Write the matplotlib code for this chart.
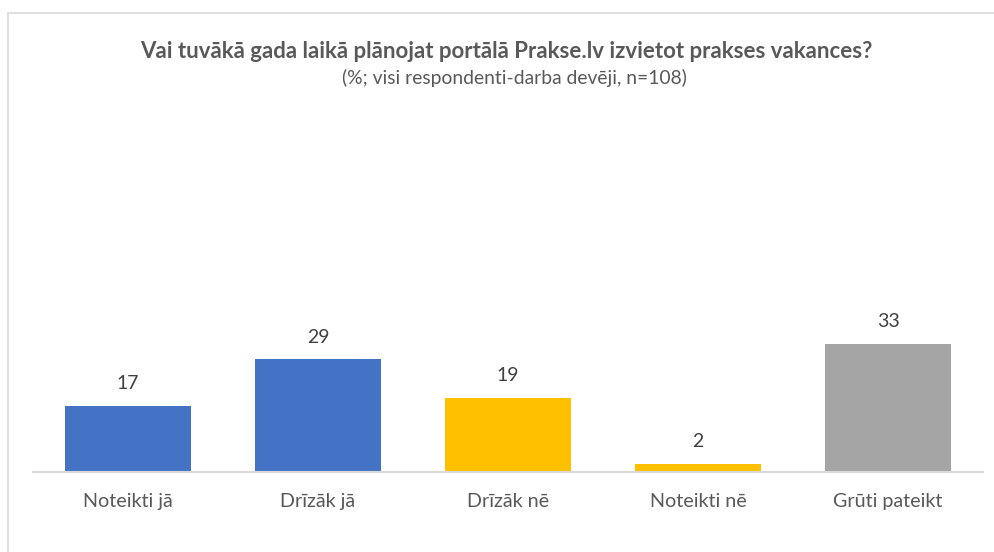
import matplotlib.pyplot as plt
from matplotlib.patches import Rectangle

# ------------------------------------------------------------------
# Data
# ------------------------------------------------------------------
categories = ['Noteikti jā', 'Drīzāk jā', 'Drīzāk nē', 'Noteikti nē', 'Grūti pateikt']
values = [17, 29, 19, 2, 33]
bar_colors = ['#4472C4', '#4472C4', '#FFC000', '#FFC000', '#A5A5A5']

title = 'Vai tuvākā gada laikā plānojat portālā Prakse.lv izvietot prakses vakances?'
subtitle = '(%; visi respondenti-darba devēji, n=108)'

W, H = 995, 552
text_color = '#595959'
plt.rcParams['font.family'] = ['Lato', 'DejaVu Sans']

fig = plt.figure(figsize=(W / 100, H / 100), dpi=100)

# frame around the chart (right/bottom edges fall outside the image)
fig.patches.append(Rectangle((8 / W, -0.05), 1.1, 1 - 13 / H + 0.05,
                             transform=fig.transFigure, fill=False,
                             edgecolor='#D9D9D9', linewidth=1.2))

# plot area in pixel coordinates
left, right, bottom = 33, 983, 472
ymax = 100
top = bottom - 3.88 * ymax
ax = fig.add_axes([left / W, 1 - bottom / H, (right - left) / W, (bottom - top) / H])

x = range(len(categories))
bars = ax.bar(x, values, width=0.665, color=bar_colors)
for b, v in zip(bars, values):
    ax.annotate(f'{v}', (b.get_x() + b.get_width() / 2, v), xytext=(0, 10),
                textcoords='offset points', ha='center', va='bottom',
                fontsize=14, color='#404040')

ax.set_xlim(-0.5, len(categories) - 0.5)
ax.set_ylim(0, ymax)
ax.set_xticks(list(x))
ax.set_xticklabels(categories, fontsize=14.2, color=text_color)
ax.tick_params(axis='x', length=0, pad=15)
ax.set_yticks([])
for s in ['top', 'right', 'left']:
    ax.spines[s].set_visible(False)
ax.spines['bottom'].set_color('#D9D9D9')
ax.spines['bottom'].set_linewidth(1.5)

fig.text(0.5 * (137 + 876) / W, 1 - 51 / H, title, ha='center', va='center',
         fontsize=16, fontweight='bold', color=text_color)
fig.text(0.5 * (340 + 688) / W, 1 - 78 / H, subtitle, ha='center', va='center',
         fontsize=13.9, color=text_color)

fig.savefig('out.png', dpi=100)
